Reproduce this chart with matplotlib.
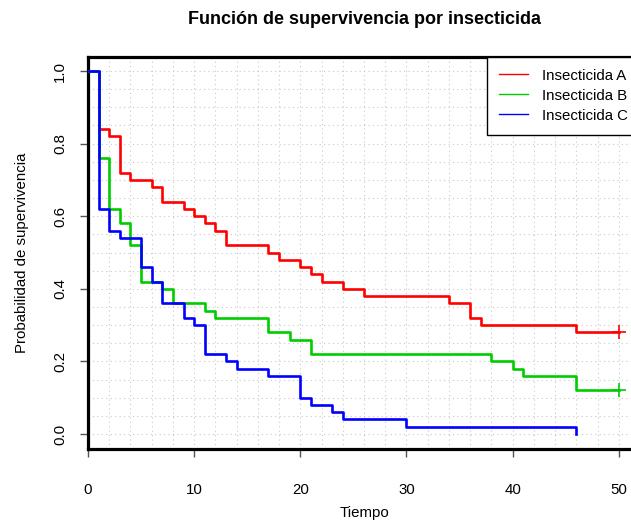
"""
Kaplan-Meier survival curves for three insecticides (base-R look).
"""

import numpy as np
import matplotlib
matplotlib.use("Agg")
import matplotlib.pyplot as plt
from matplotlib.lines import Line2D

plt.rcParams["font.family"] = ["Liberation Sans", "DejaVu Sans"]

# ------------------------------------------------------------------
# step functions: event time -> survival after that time
times_a = [0, 1, 2, 3, 4, 6, 7, 9, 10, 11, 12, 13, 17, 18, 20, 21, 22, 24,
           26, 34, 36, 37, 46, 50]
surv_a = [1.00, 0.84, 0.82, 0.72, 0.70, 0.68, 0.64, 0.62, 0.60, 0.58, 0.56,
          0.52, 0.50, 0.48, 0.46, 0.44, 0.42, 0.40, 0.38, 0.36, 0.32, 0.30,
          0.28, 0.28]

times_b = [0, 1, 2, 3, 4, 5, 7, 8, 11, 12, 17, 19, 21, 38, 40, 41, 46, 50]
surv_b = [1.00, 0.76, 0.62, 0.58, 0.52, 0.42, 0.40, 0.36, 0.34, 0.32, 0.28,
          0.26, 0.22, 0.20, 0.18, 0.16, 0.12, 0.12]

times_c = [0, 1, 2, 3, 5, 6, 7, 9, 10, 11, 13, 14, 17, 20, 21, 23, 24, 30, 46]
surv_c = [1.00, 0.62, 0.56, 0.54, 0.46, 0.42, 0.36, 0.32, 0.30, 0.22, 0.20,
          0.18, 0.16, 0.10, 0.08, 0.06, 0.04, 0.02, 0.00]

# censored observations (time, survival)
cens_a = ([50], [0.28])
cens_b = ([50], [0.12])

labels = ["Insecticida A", "Insecticida B", "Insecticida C"]
colors = ["#FF0000", "#00CD00", "#0000FF"]

x_ticks = [0, 10, 20, 30, 40, 50]
y_ticks = [0.0, 0.2, 0.4, 0.6, 0.8, 1.0]

# ------------------------------------------------------------------
W, H = 631, 527
fig = plt.figure(figsize=(W / 100, H / 100), dpi=100)

left, right = 88, 640
top, bottom = 56.5, 448.5
ax = fig.add_axes([left / W, 1 - bottom / H, (right - left) / W,
                   (bottom - top) / H])

ax.set_xlim(0, 52)
ax.set_ylim(-0.04, 1.04)

# dotted background grid
for gx in np.arange(0, 53, 2):
    ax.axvline(gx, color="#c8c8c8", lw=0.8, ls=(0, (1, 3)), zorder=0)
for gy in np.arange(0, 1.05, 0.05):
    ax.axhline(gy, color="#c8c8c8", lw=0.8, ls=(0, (1, 3)), zorder=0)

for t, s, c in zip([times_a, times_b, times_c], [surv_a, surv_b, surv_c],
                   colors):
    ax.step(t, s, where="post", color=c, lw=1.9, zorder=3)

ax.plot(*cens_a, ls="none", marker="+", color=colors[0], ms=10, mew=1.2,
        zorder=4)
ax.plot(*cens_b, ls="none", marker="+", color=colors[1], ms=10, mew=1.2,
        zorder=4)

for side in ["left", "top", "bottom", "right"]:
    ax.spines[side].set_linewidth(2.3)
    ax.spines[side].set_color("black")

ax.set_xticks(x_ticks)
ax.set_yticks(y_ticks)
ax.set_xticklabels([str(v) for v in x_ticks])
ax.set_yticklabels([f"{v:.1f}" for v in y_ticks], rotation=90, va="center")
ax.tick_params(axis="both", direction="out", length=6, width=1.0,
               color="#555555", labelsize=10.8)
ax.tick_params(axis="x", pad=19)
ax.tick_params(axis="y", pad=9)

ax.set_xlabel("Tiempo", fontsize=10.8, va="center")
ax.xaxis.set_label_coords((364 - left) / (right - left),
                          -(513 - bottom) / (bottom - top))
ax.set_ylabel("Probabilidad de supervivencia", fontsize=10.8, va="center")
ax.yaxis.set_label_coords((22 - left) / (right - left), 0.5)

fig.text(364 / W, 1 - 20 / H, "Función de supervivencia por insecticida",
         ha="center", va="center", fontsize=13, fontweight="bold")

handles = [Line2D([], [], color=c, lw=1.0) for c in colors]
leg = ax.legend(handles, labels, loc="upper right", bbox_to_anchor=(1, 1),
                borderaxespad=0, fontsize=10.8, frameon=True, fancybox=False,
                handlelength=1.95, handletextpad=0.95, borderpad=0.8,
                labelspacing=0.4)
leg.get_frame().set_edgecolor("black")
leg.get_frame().set_linewidth(1.0)
leg.get_frame().set_alpha(1)

fig.savefig("out.png", dpi=100)
